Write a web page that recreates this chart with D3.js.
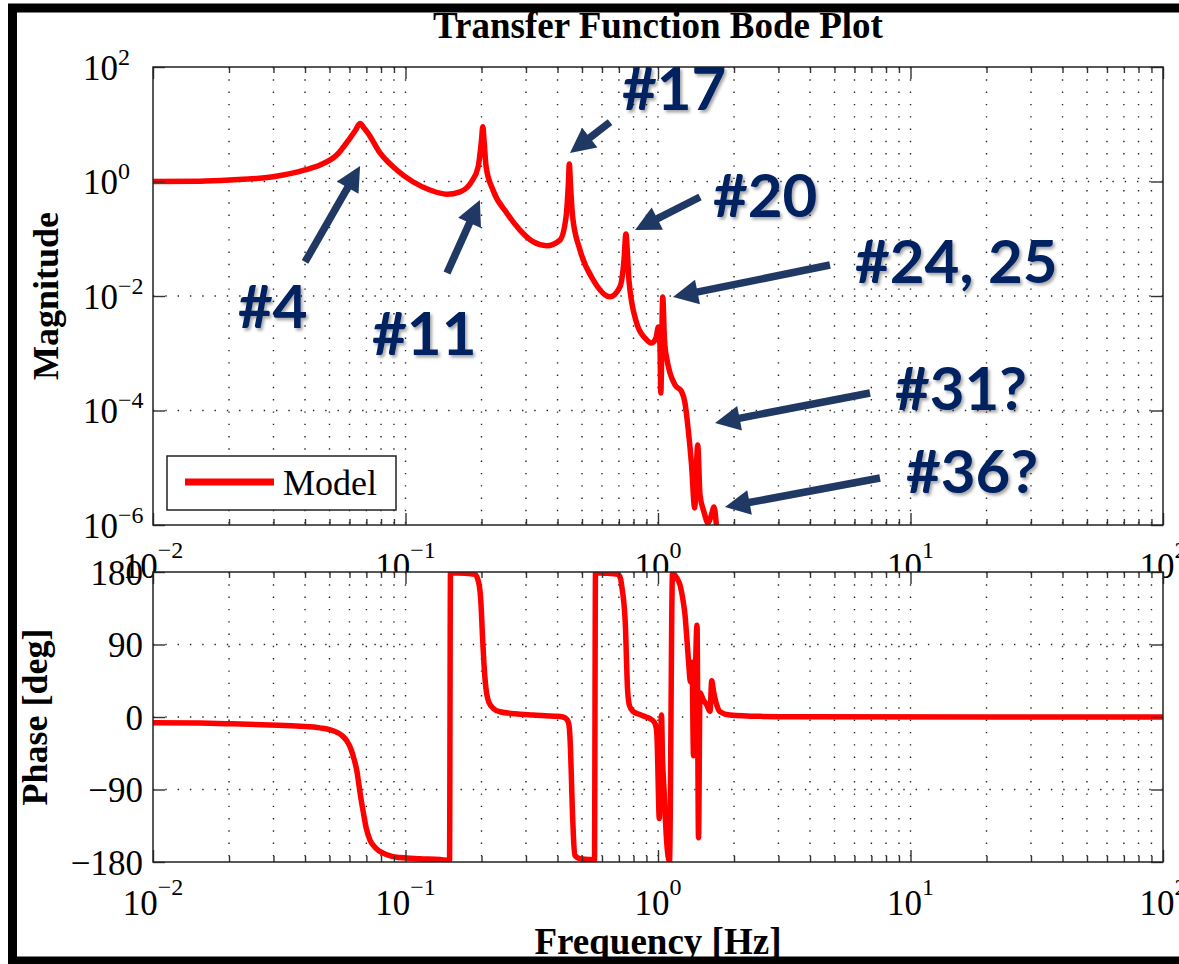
<!DOCTYPE html>
<html><head><meta charset="utf-8">
<script src="https://cdn.jsdelivr.net/npm/d3@7"></script>
<style>html,body{margin:0;padding:0;background:#fff;overflow:hidden}</style>
</head><body><svg id="c" width="1179" height="964"></svg>
<script>
// ---------------- data ----------------
const magFreq = [0.01, 0.01535, 0.0202, 0.0299, 0.0400, 0.0459, 0.0534, 0.0603, 0.0631, 0.0661, 0.0685, 0.0710, 0.0793, 0.0923, 0.107, 0.125, 0.1456, 0.1644, 0.1828, 0.194, 0.200, 0.2024, 0.2046, 0.2086, 0.222, 0.2517, 0.284, 0.320, 0.362, 0.409, 0.4325, 0.4414, 0.4455, 0.4503, 0.459, 0.491, 0.5545, 0.6457, 0.707, 0.7335, 0.7463, 0.7573, 0.767, 0.823, 0.888, 0.944, 0.982, 1.003, 1.018, 1.026, 1.044, 1.061, 1.086, 1.116, 1.168, 1.241, 1.279, 1.318, 1.358, 1.397, 1.4365, 1.467, 1.521, 1.578, 1.622, 1.667, 1.713, 1.760];
const magValue = [1.0, 1.01, 1.06, 1.21, 1.59, 1.94, 2.90, 5.75, 7.62, 10.3, 8.6, 7.03, 3.15, 1.59, 0.99, 0.71, 0.60, 0.66, 1.0, 1.81, 5.3, 9.06, 5.3, 1.81, 0.71, 0.282, 0.142, 0.0889, 0.0757, 0.095, 0.243, 0.869, 2.02, 0.87, 0.243, 0.0636, 0.019, 0.00972, 0.01453, 0.0426, 0.121, 0.052, 0.019, 0.00337, 0.00185, 0.00151, 0.00185, 0.00288, 0.00139, 0.000202, 0.0096, 0.0017, 0.000762, 0.000452, 0.000279, 0.000213, 0.000135, 4.56e-5, 1.12e-5, 1.98e-6, 2.5e-5, 3.34e-6, 1.69e-6, 1.08e-6, 1.43e-6, 2.06e-6, 7.6e-7, 2.4e-7];

const phaseFreq = [0.01, 0.01535, 0.02074, 0.02906, 0.03823, 0.04587, 0.05163, 0.05605, 0.05866, 0.06085, 0.06252, 0.06427, 0.06545, 0.06667, 0.06821, 0.06979, 0.07238, 0.07644, 0.08145, 0.08839, 0.0951, 0.1141, 0.137, 0.1494, 0.1507, 0.172, 0.1885, 0.1955, 0.1991, 0.2018, 0.2046, 0.2084, 0.2141, 0.2241, 0.2367, 0.2715, 0.3199, 0.3909, 0.4205, 0.4361, 0.4441, 0.4503, 0.4544, 0.4585, 0.4627, 0.4691, 0.4911, 0.5378, 0.5603, 0.5655, 0.6167, 0.6945, 0.7105, 0.7202, 0.7335, 0.7437, 0.7504, 0.7573, 0.7712, 0.7962, 0.8486, 0.8965, 0.9296, 0.9643, 0.982, 0.9909, 0.9982, 1.0046, 1.0118, 1.0231, 1.0325, 1.0418, 1.0563, 1.0708, 1.0855, 1.1105, 1.1413, 1.1677, 1.1892, 1.2221, 1.256, 1.2791, 1.3028, 1.3183, 1.345, 1.3637, 1.3824, 1.4014, 1.4274, 1.447, 1.4668, 1.5075, 1.5594, 1.6068, 1.6322, 1.6591, 1.7083, 1.7602, 1.928, 2.535, 3.651, 22.62, 100];
const phaseValue = [-7, -7.5, -8.5, -10, -11.5, -13.5, -17, -23, -30, -40, -52, -68, -85, -102, -120, -137, -153, -163, -169, -173, -174.5, -176, -177, -178, 179, 178.5, 177, 165, 140, 100, 65, 35, 18, 10, 6.5, 4, 2.5, 1, 0, -3, -10, -40, -80, -120, -150, -172, -176, -177, -178, 179, 178.5, 177, 172, 160, 140, 110, 70, 35, 14, 7, 3, 0, -2, -6, -12, -25, -60, -100, -126, -40, 2.5, -50, -90, -130, -160, -179, 178, 176, 172, 164, 145, 127, 95, 73, 44, 68, -48, 33, 114, -150, 30, 22, 15, 7, 45, 32, 15, 6.6, 2.5, 0.8, 0.3, 0.1, 0];

const xTickExponents = [-2, -1, 0, 1, 2];
const magTickExponents = [2, 0, -2, -4, -6];
const phaseTicks = [180, 90, 0, -90, -180];

const titleText = "Transfer Function Bode Plot";
const magLabel = "Magnitude";
const phaseLabel = "Phase [deg]";
const freqLabel = "Frequency [Hz]";
const legendLabel = "Model";

const annoLabels = ["#4", "#11", "#17", "#20", "#24, 25", "#31?", "#36?"];
const annoLabelFreq = [0.0217, 0.0737, 0.7202, 1.651, 6.03, 8.68, 9.60];
const annoLabelMag = [0.00276, 0.00093, 17.7, 0.24, 0.01687, 1.02e-4, 3.62e-6];
const arrowTailFreq = [0.0400, 0.146, 0.6457, 1.467, 4.799, 6.913, 7.572];
const arrowTailMag = [0.0393, 0.0252, 10.9, 0.536, 0.0348, 2.02e-4, 6.62e-6];
const arrowTipFreq = [0.0661, 0.197, 0.448, 0.811, 1.1466, 1.682, 1.842];
const arrowTipMag = [1.87, 0.475, 3.15, 0.142, 0.0096, 6.05e-5, 2.06e-6];

// ---------------- layout ----------------
const L = 153, R = 1163, magTop = 67, magBot = 525, phTop = 572, phBot = 862;
const serif = "'Liberation Serif','Times New Roman',Times,serif";
const RED = "#ff0000";
const svg = d3.select("#c");
svg.append("rect").attr("width", 1179).attr("height", 964).attr("fill", "#fff");

const x = d3.scaleLog().domain([1e-2, 1e2]).range([L, R]);
const yMag = d3.scaleLog().domain([1e-6, 1e2]).range([magBot, magTop]);
const yPh = d3.scaleLinear().domain([-180, 180]).range([phBot, phTop]);

const majorX = xTickExponents.map(e => Math.pow(10, e));
const minorX = [];
for (let d = -2; d <= 1; d++) for (let k = 2; k <= 9; k++) minorX.push(k * Math.pow(10, d));

const defs = svg.append("defs");
defs.append("clipPath").attr("id", "clipMag").append("rect")
  .attr("x", L).attr("y", magTop).attr("width", R - L).attr("height", magBot - magTop);
defs.append("clipPath").attr("id", "clipPh").append("rect")
  .attr("x", L).attr("y", phTop).attr("width", R - L).attr("height", phBot - phTop);
const f = defs.append("filter").attr("id", "shadow").attr("x", "-20%").attr("y", "-20%").attr("width", "140%").attr("height", "140%");
f.append("feDropShadow").attr("dx", 2).attr("dy", 2.5).attr("stdDeviation", 1.6)
  .attr("flood-color", "#000").attr("flood-opacity", 0.35);

function panel(yScale, top, bottom, yTickVals, clipId, lineData, curve) {
  const g = svg.append("g");
  g.append("rect").attr("x", L).attr("y", top).attr("width", R - L).attr("height", bottom - top).attr("fill", "#fff");
  g.append("g").selectAll("line").data(majorX.concat(minorX).filter(v => v > 1e-2 && v < 1e2)).join("line")
    .attr("x1", d => x(d)).attr("x2", d => x(d)).attr("y1", top).attr("y2", bottom)
    .attr("stroke", "#262626").attr("stroke-width", 1.4).attr("stroke-dasharray", "1.4,10.9");
  g.append("g").selectAll("line").data(yTickVals.filter(v => yScale(v) > top + 1 && yScale(v) < bottom - 1)).join("line")
    .attr("x1", L).attr("x2", R).attr("y1", d => yScale(d)).attr("y2", d => yScale(d))
    .attr("stroke", "#262626").attr("stroke-width", 1.4).attr("stroke-dasharray", "1.4,10.9");
  const line = d3.line().x(d => x(d[0])).y(d => yScale(d[1])).curve(curve);
  g.append("path").datum(lineData).attr("d", line).attr("clip-path", `url(#${clipId})`)
    .attr("fill", "none").attr("stroke", RED).attr("stroke-width", 5.5)
    .attr("stroke-linejoin", "round").attr("stroke-linecap", "round");
  const tickStyle = s => { s.select(".domain").remove(); s.selectAll("line").attr("stroke", "#333").attr("stroke-width", 1.4); };
  g.append("g").attr("transform", `translate(0,${bottom})`).call(d3.axisBottom(x).tickValues(majorX).tickSizeInner(-12).tickSizeOuter(0).tickFormat("")).call(tickStyle);
  g.append("g").attr("transform", `translate(0,${bottom})`).call(d3.axisBottom(x).tickValues(minorX).tickSizeInner(-6).tickSizeOuter(0).tickFormat("")).call(tickStyle);
  g.append("g").attr("transform", `translate(0,${top})`).call(d3.axisTop(x).tickValues(majorX).tickSizeInner(-12).tickSizeOuter(0).tickFormat("")).call(tickStyle);
  g.append("g").attr("transform", `translate(0,${top})`).call(d3.axisTop(x).tickValues(minorX).tickSizeInner(-6).tickSizeOuter(0).tickFormat("")).call(tickStyle);
  g.append("g").attr("transform", `translate(${L},0)`).call(d3.axisLeft(yScale).tickValues(yTickVals).tickSizeInner(-12).tickSizeOuter(0).tickFormat("")).call(tickStyle);
  g.append("g").attr("transform", `translate(${R},0)`).call(d3.axisRight(yScale).tickValues(yTickVals).tickSizeInner(-12).tickSizeOuter(0).tickFormat("")).call(tickStyle);
  g.append("rect").attr("x", L).attr("y", top).attr("width", R - L).attr("height", bottom - top)
    .attr("fill", "none").attr("stroke", "#222").attr("stroke-width", 1.5);
  const xl = g.append("g").attr("font-family", serif).attr("fill", "#000");
  xTickExponents.forEach(e => {
    const t = xl.append("text").attr("x", x(Math.pow(10, e))).attr("y", bottom + 53)
      .attr("text-anchor", "middle").attr("font-size", 35);
    t.append("tspan").text("10");
    t.append("tspan").attr("font-size", 24).attr("dy", -20).text(e < 0 ? "\u2212" + (-e) : String(e));
  });
  return g;
}

const magData = magFreq.map((v, i) => [v, magValue[i]]);
const phData = phaseFreq.map((v, i) => [v, phaseValue[i]]);

const magVals = magTickExponents.map(e => Math.pow(10, e));
const gMag = panel(yMag, magTop, magBot, magVals, "clipMag", magData, d3.curveMonotoneX);
const yl = gMag.append("g").attr("font-family", serif).attr("fill", "#000");
magTickExponents.forEach(e => {
  const t = yl.append("text").attr("x", 83).attr("y", yMag(Math.pow(10, e)) + 12.5).attr("font-size", 35);
  t.append("tspan").text("10");
  t.append("tspan").attr("font-size", 24).attr("dy", -15).text(e < 0 ? "\u2212" + (-e) : String(e));
});
const lg = gMag.append("g");
lg.append("rect").attr("x", 167).attr("y", 456).attr("width", 229).attr("height", 54)
  .attr("fill", "#fff").attr("stroke", "#222").attr("stroke-width", 1.5);
lg.append("line").attr("x1", 185).attr("x2", 274).attr("y1", 482).attr("y2", 482)
  .attr("stroke", RED).attr("stroke-width", 7);
lg.append("text").attr("x", 283).attr("y", 495).attr("font-family", serif).attr("font-size", 36).text(legendLabel);

const gPh = panel(yPh, phTop, phBot, phaseTicks, "clipPh", phData, d3.curveMonotoneX);
gPh.append("g").attr("font-family", serif).selectAll("text").data(phaseTicks).join("text")
  .attr("x", 143).attr("y", d => yPh(d) + 12.5).attr("text-anchor", "end").attr("font-size", 35)
  .text(d => d < 0 ? "\u2212" + (-d) : String(d));

svg.append("text").attr("x", (L + R) / 2).attr("y", 38).attr("text-anchor", "middle")
  .attr("font-family", serif).attr("font-weight", "bold").attr("font-size", 37).text(titleText);
svg.append("text").attr("transform", `translate(58,${(magTop + magBot) / 2}) rotate(-90)`).attr("text-anchor", "middle")
  .attr("font-family", serif).attr("font-weight", "bold").attr("font-size", 36).text(magLabel);
svg.append("text").attr("transform", `translate(47,${(phTop + phBot) / 2}) rotate(-90)`).attr("text-anchor", "middle")
  .attr("font-family", serif).attr("font-weight", "bold").attr("font-size", 36).text(phaseLabel);
svg.append("text").attr("x", (L + R) / 2).attr("y", 954).attr("text-anchor", "middle")
  .attr("font-family", serif).attr("font-weight", "bold").attr("font-size", 37).text(freqLabel);

const ag = svg.append("g");
annoLabels.forEach((lab, i) => {
  const x0 = x(arrowTailFreq[i]), y0 = yMag(arrowTailMag[i]);
  const x1 = x(arrowTipFreq[i]), y1 = yMag(arrowTipMag[i]);
  const dx = x1 - x0, dy = y1 - y0, len = Math.hypot(dx, dy);
  const ux = dx / len, uy = dy / len, hl = 25, hw = 12.5;
  const bx = x1 - ux * hl, by = y1 - uy * hl;
  ag.append("line").attr("x1", x0).attr("y1", y0).attr("x2", bx + ux * 2).attr("y2", by + uy * 2)
    .attr("stroke", "#203864").attr("stroke-width", 7.5);
  ag.append("polygon").attr("points", [[x1, y1], [bx - uy * hw, by + ux * hw], [bx + uy * hw, by - ux * hw]].map(p => p.join(",")).join(" "))
    .attr("fill", "#203864");
  ag.append("text").attr("x", x(annoLabelFreq[i])).attr("y", yMag(annoLabelMag[i]))
    .attr("font-family", "Lato,'Open Sans',sans-serif").attr("font-weight", "bold").attr("font-size", 60)
    .attr("fill", "#002060").attr("filter", "url(#shadow)").text(lab);
});

svg.append("rect").attr("x", 12.5).attr("y", 8).attr("width", 1200).attr("height", 953)
  .attr("fill", "none").attr("stroke", "#000").attr("stroke-width", 9);
</script></body></html>
